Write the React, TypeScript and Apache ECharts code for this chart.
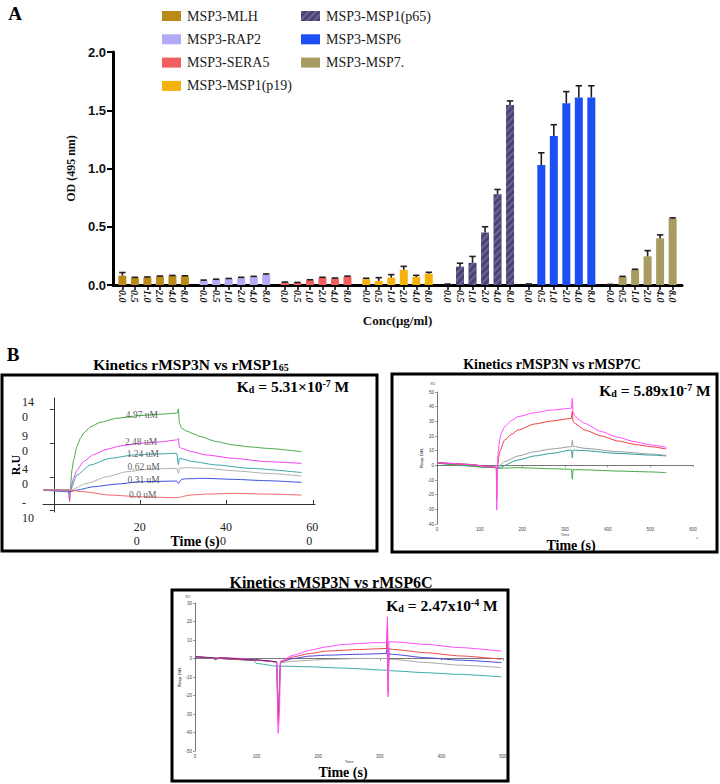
import React, { useEffect, useRef } from "react";
import * as echarts from "echarts";

// ---------- Panel A data ----------
const groupNames = ["MSP3-MLH", "MSP3-RAP2", "MSP3-SERA5", "MSP3-MSP1(p19)", "MSP3-MSP1(p65)", "MSP3-MSP6", "MSP3-MSP7."];
const groupColors = ["#b98a17", "#b3aaf6", "#f25f5f", "#f6b20c", "#4a4272", "#1c4ff3", "#a99c62"];
const concLabels = ["0.0", "0.5", "1.0", "2.0", "4.0", "8.0"];
const mlhOD = [0.08, 0.062, 0.064, 0.073, 0.078, 0.075];
const mlhErr = [0.027, 0.004, 0.005, 0.004, 0.004, 0.004];
const rap2OD = [0.037, 0.045, 0.051, 0.06, 0.068, 0.088];
const rap2Err = [0.005, 0.005, 0.005, 0.006, 0.006, 0.007];
const sera5OD = [0.022, 0.018, 0.04, 0.062, 0.056, 0.072];
const sera5Err = [0.003, 0.004, 0.005, 0.004, 0.004, 0.004];
const p19OD = [0.05, 0.035, 0.063, 0.13, 0.069, 0.097];
const p19Err = [0.008, 0.028, 0.026, 0.03, 0.014, 0.012];
const p65OD = [0.005, 0.157, 0.19, 0.45, 0.78, 1.545];
const p65Err = [0.003, 0.03, 0.055, 0.05, 0.04, 0.035];
const msp6OD = [0.006, 1.03, 1.28, 1.56, 1.61, 1.61];
const msp6Err = [0.003, 0.105, 0.096, 0.1, 0.1, 0.1];
const msp7OD = [0.003, 0.069, 0.129, 0.246, 0.4, 0.57];
const msp7Err = [0.002, 0.005, 0.006, 0.049, 0.03, 0.006];
const yTicksA = [0, 0.5, 1.0, 1.5, 2.0];

// ---------- Panel B1 (rMSP1 65) ----------
const b1Curves = [
  { name: "4.97 uM", color: "#45a845", pts: [[-23.5, 20.5], [34.3, 20.5], [36.6, 3.2], [38.2, 20.5], [42, 50], [45.9, 65], [53.6, 85], [61.3, 97], [69, 105], [84.4, 114], [107.5, 121], [146, 127], [200, 131], [246.2, 133], [284.8, 134.5], [286.3, 135], [288.6, 141], [290.9, 120], [296.3, 112], [307.8, 108], [323.3, 104], [338.7, 100], [377.3, 92.3], [415.8, 87.4], [454.3, 84.5], [492.9, 82.4], [573.8, 77.4]] },
  { name: "2.48 uM", color: "#f040f0", pts: [[-23.5, 20.5], [34.3, 20.5], [36.6, 5], [38.2, 20.5], [45.9, 38], [53.6, 50], [69, 63], [92.1, 73], [122.9, 81], [153.8, 86], [200, 89.9], [246.2, 92], [284.8, 94.8], [288.6, 97.3], [290.9, 84], [296.3, 82.4], [315.6, 78], [354.1, 72.5], [415.8, 67.6], [492.9, 62.6], [573.8, 60.1]] },
  { name: "1.24 uM", color: "#3aa6a6", pts: [[-23.5, 20.5], [34.3, 20.5], [38.2, 20.5], [53.6, 42.8], [84.4, 57.7], [130.6, 67.6], [184.6, 72.5], [238.5, 74], [284.8, 75], [288.6, 58], [290.9, 67.6], [323.3, 62.6], [377.3, 57.7], [454.3, 52.7], [573.8, 46.5]] },
  { name: "0.62 uM", color: "#b0b0b0", pts: [[-23.5, 20.5], [38.2, 20.5], [76.7, 30.4], [122.9, 40.3], [169.2, 47.7], [223.1, 51.7], [284.8, 52.7], [288.6, 45], [290.9, 53], [307.8, 53.7], [354.1, 52.7], [415.8, 49.2], [492.9, 45.3], [573.8, 41.3]] },
  { name: "0.31 uM", color: "#3a50e0", pts: [[-23.5, 20.5], [36.6, 18], [53.6, 20.5], [92.1, 25.5], [146, 29.4], [200, 32.9], [284.8, 33.9], [288.6, 30.4], [296.3, 36.5], [307.8, 37.3], [354.1, 37.8], [415.8, 36.4], [492.9, 34.4], [573.8, 31.9]] },
  { name: "0.0 uM", color: "#f06868", pts: [[-23.5, 20.5], [34.3, 20.5], [69, 18], [130.6, 13.1], [200, 10.6], [284.8, 9.1], [315.6, 13.1], [354.1, 14.6], [415.8, 15.6], [492.9, 14.6], [573.8, 13.1]] },
];
const b1CurveLabels = [
  { text: "4.97 uM", t: 204, v: 132 },
  { text: "2.48 uM", t: 202, v: 91.8 },
  { text: "1.24 uM", t: 206, v: 74 },
  { text: "0.62 uM", t: 208, v: 54.7 },
  { text: "0.31 uM", t: 208, v: 35.4 },
  { text: "0.0 uM", t: 206, v: 13.1 },
];
const b1YTickValues = [140, 90, 40, -10];
const b1YTickLabels = ["14\n0", "9\n0", "4\n0", "-\n10"];
const b1XTickValues = [200, 400, 600];
const b1XTickLabels = ["20\n0", "40\n0", "60\n0"];

// ---------- Panel B2 (rMSP7C) ----------
const b2Curves = [
  { color: "#663366", pts: [[0, 2], [36, 1.3], [72.7, 0.7], [111.7, -0.4], [139, -1.3]] },
  { color: "#2f9c9c", pts: [[0, 1.5], [139, -1.6], [141.4, -2], [189.8, 3.6], [228.9, 6.4], [268, 8.1], [314.8, 10.4], [317.2, 5], [318.8, 10.4], [346.1, 10], [424.2, 8.1], [502.3, 7], [537.5, 6.4]] },
  { color: "#9a9a9a", pts: [[0, 1.8], [139, -1.4], [141.4, -1.4], [158.6, 2.5], [189.8, 6.4], [228.9, 9.3], [268, 11.1], [314.8, 12.7], [317.2, 17], [318.8, 13], [346.1, 11.6], [424.2, 9.3], [502.3, 7.7], [537.5, 6.8]] },
  { color: "#45a845", pts: [[0, 1.5], [139, -1.6], [141.4, -2], [189.8, -1.6], [268, -2.3], [314.8, -2.7], [317.2, -9.5], [318.8, -2.9], [346.1, -3.1], [424.2, -3.9], [502.3, -4.5], [537.5, -5]] },
  { color: "#ee3a3a", pts: [[0, 1.8], [72.7, 0.6], [139, -1.4], [140, -23.6], [141.4, -1.4], [146.9, 9.3], [158.6, 17.3], [174.2, 21], [189.8, 24.1], [228.9, 28.2], [268, 30.2], [314.8, 32], [317.2, 37], [318.8, 30], [322.7, 28.6], [346.1, 24.1], [385.2, 20], [424.2, 16.6], [463.3, 14.3], [502.3, 12.7], [537.5, 11.1]] },
  { color: "#ff48ff", pts: [[0, 1.8], [33.6, 1.3], [72.7, 0.6], [111.7, -0.5], [139, -1.4], [140, -30.5], [141.4, -1.4], [143, 8], [146.9, 17.3], [150.8, 22], [158.6, 26.4], [174.2, 30.5], [189.8, 33.2], [228.9, 35.9], [268, 37.7], [314.8, 38.9], [317.2, 45.7], [318.8, 36], [322.7, 34], [330.5, 31.5], [346.1, 28.6], [385.2, 23], [424.2, 19.1], [463.3, 16.1], [502.3, 13.9], [537.5, 12.3]] },
];

// ---------- Panel B3 (rMSP6C) ----------
const b3Curves = [
  { color: "#35a8a8", pts: [[0, 0.9], [95, -0.9], [100, -2.7], [132.4, -4.1], [138.9, -4.1], [186.5, -4.5], [240.5, -5.2], [310.8, -6.3], [321.6, -6.7], [375.7, -7.7], [429.7, -8.6], [497.3, -9.9]] },
  { color: "#a8a8a8", pts: [[0, 0.9], [100, -0.9], [132.4, -1.8], [135.1, -28], [138.9, -2.3], [159.5, -1.4], [213.5, -0.5], [267.6, 0], [310.8, 0], [315, -0.4], [321.6, -0.5], [375.7, -2.2], [429.7, -3.6], [497.3, -4.9]] },
  { color: "#4646dc", pts: [[0, 0.9], [100, -0.9], [132.4, -1.8], [135.1, -30], [138.9, -1.8], [159.5, 0], [186.5, 1.3], [213.5, 1.8], [267.6, 2.3], [310.8, 2.7], [312.5, 12], [313.5, -12], [315, 2.5], [321.6, 2.2], [375.7, 0.4], [429.7, -0.9], [497.3, -2.2]] },
  { color: "#ee4848", pts: [[0, 0.9], [100, -0.9], [132.4, -1.8], [135.1, -35], [138.9, -1.8], [159.5, 0.9], [186.5, 2.7], [213.5, 4], [267.6, 4.9], [310.8, 5.4], [312.5, 18], [313.5, -18], [315, 5.2], [321.6, 4.9], [375.7, 3.1], [429.7, 1.4], [497.3, -0.4]] },
  { color: "#ff48ff", pts: [[0, 0.9], [29.7, 0.4], [32.4, -0.5], [40.5, 0.5], [78.4, 0], [100, -0.9], [132.4, -1.8], [135.1, -40.5], [137, -30], [138.9, -1.4], [159.5, 1.8], [186.5, 4.5], [213.5, 6.3], [240.5, 7.6], [267.6, 8.1], [294.6, 8.6], [310.8, 8.5], [312.5, 22.5], [313.5, -20.7], [315, 9], [321.6, 9], [375.7, 7.6], [429.7, 5.9], [497.3, 4]] },
  { color: "#663366", pts: [[0, 1], [29.7, 0.5], [32.4, -0.6], [40.5, 0.4], [100, -0.8], [132.4, -1.7]] },
];

const SERIF = "'Liberation Serif', 'Times New Roman', serif";
const SANS = "'Liberation Sans', Arial, sans-serif";

export default function App() {
  const ref = useRef<HTMLDivElement>(null);
  useEffect(() => {
    document.body.style.margin = "0";
    const chart = echarts.init(ref.current!, null, { renderer: "svg" });

    const groupOD = [mlhOD, rap2OD, sera5OD, p19OD, p65OD, msp6OD, msp7OD];
    const groupErr = [mlhErr, rap2Err, sera5Err, p19Err, p65Err, msp6Err, msp7Err];

    // category slots: bars separated by one blank slot, groups by two extra blanks
    const slotKeys: string[] = [];
    const slotLabel: string[] = [];
    const isBar: boolean[] = [];
    const barIndex: number[][] = [];
    let b = 0;
    const addBlank = () => { slotKeys.push("_b" + b++); slotLabel.push(""); isBar.push(false); };
    addBlank();
    groupNames.forEach((_, g) => {
      barIndex.push([]);
      concLabels.forEach((c, ci) => {
        barIndex[g].push(slotKeys.length);
        slotKeys.push(g + "_" + c); slotLabel.push(c); isBar.push(true);
        if (ci < concLabels.length - 1) addBlank();
      });
      if (g < groupNames.length - 1) { addBlank(); addBlank(); } else addBlank();
    });

    const barSeries = groupNames.map((name, g) => {
      const data: any[] = slotKeys.map(() => "-");
      groupOD[g].forEach((v, ci) => { data[barIndex[g][ci]] = v; });
      const s: any = {
        name, type: "bar", xAxisIndex: 0, yAxisIndex: 0, data,
        barWidth: 8, barGap: "-100%",
        itemStyle: { color: groupColors[g] },
      };
      if (g === 4) {
        s.itemStyle.decal = { symbol: "rect", symbolSize: 1, dashArrayX: [1, 0], dashArrayY: [1.5, 2.5], rotation: -Math.PI / 4, color: "rgba(150,140,190,0.45)" };
      }
      return s;
    });

    const errData: any[] = [];
    groupNames.forEach((_, g) => {
      groupOD[g].forEach((v, ci) => errData.push([barIndex[g][ci], v, groupErr[g][ci]]));
    });
    const errSeries = {
      type: "custom", xAxisIndex: 0, yAxisIndex: 0, z: 5, data: errData,
      encode: { x: 0, y: 1 },
      renderItem: (params: any, api: any) => {
        const x = api.value(0), v = api.value(1), e = api.value(2);
        const p0 = api.coord([x, v]);
        const p1 = api.coord([x, v + e]);
        const st = { stroke: "#241c1c", lineWidth: 1.6 };
        return {
          type: "group",
          children: [
            { type: "line", shape: { x1: p0[0], y1: p0[1], x2: p1[0], y2: p1[1] }, style: st },
            { type: "line", shape: { x1: p1[0] - 3.2, y1: p1[1], x2: p1[0] + 3.2, y2: p1[1] }, style: st },
          ],
        };
      },
    };

    const lineSeries = (curves: any[], idx: number) =>
      curves.map((c) => ({
        type: "line", xAxisIndex: idx, yAxisIndex: idx, data: c.pts, showSymbol: false,
        smooth: 0.2, smoothMonotone: "x",
        lineStyle: { color: c.color, width: 1 }, itemStyle: { color: c.color }, z: 3,
      }));

    const b1LabelSeries = {
      type: "scatter", xAxisIndex: 1, yAxisIndex: 1, symbolSize: 1, z: 6,
      itemStyle: { color: "rgba(0,0,0,0)" },
      data: b1CurveLabels.map((l) => ({ name: l.text, value: [l.t, l.v] })),
      label: { show: true, position: "inside", formatter: "{b}", fontFamily: SERIF, fontSize: 9.5, color: "#333" },
    };

    const richLabel = (lines: string) => lines.split("\n").map((p) => `{a|${p}}`).join("\n");

    const tinyAxis = (min: number, max: number, interval: number, grid: number) => ({
      type: "value", gridIndex: grid, min, max, interval,
      axisLine: { show: true, lineStyle: { color: "#555", width: 0.8 } },
      axisTick: { show: true, length: 2, lineStyle: { color: "#555", width: 0.6 } },
      axisLabel: { fontSize: 4.5, color: "#444", margin: 3, fontFamily: SANS },
      splitLine: { show: false },
    });

    const titleRich = {
      sub: { fontSize: 10, fontWeight: "bold", fontFamily: SERIF, verticalAlign: "bottom", padding: [5, 0, 0, 0] },
    };
    const kdRich = {
      sub: { fontSize: 10, fontWeight: "bold", fontFamily: SERIF, verticalAlign: "bottom", padding: [5, 0, 0, 0] },
      dsm: { fontSize: 10, fontWeight: "bold", fontFamily: SERIF, verticalAlign: "bottom", padding: [3, 0, 0, 0] },
      sup: { fontSize: 10, fontWeight: "bold", fontFamily: SERIF, verticalAlign: "top", padding: [0, 0, 5, 0] },
    };
    const txt = (text: string, x: number, y: number, size: number, extra: any = {}, rotation = 0) => ({
      type: "text", x, y, z: 20, rotation,
      style: { text, fontFamily: SERIF, fontWeight: "bold", fontSize: size, fill: "#000", align: "center", verticalAlign: "middle", ...extra },
    });
    const box = (x: number, y: number, w: number, h: number) => ({
      type: "rect", shape: { x, y, width: w, height: h }, z: 20,
      style: { fill: "none", stroke: "#000", lineWidth: 3 },
    });

    const legendCommon = {
      orient: "vertical", itemWidth: 19, itemHeight: 10, itemGap: 9.3, icon: "rect",
      textStyle: { fontFamily: SERIF, fontSize: 14, color: "#1a1a1a", lineHeight: 14, padding: [0, 0, 0, 1] },
    };

    chart.setOption({
      animation: false,
      backgroundColor: "#fff",
      legend: [
        { ...legendCommon, left: 157, top: 4, data: groupNames.slice(0, 4) },
        { ...legendCommon, left: 296, top: 4, data: groupNames.slice(4) },
      ],
      grid: [
        { left: 113, top: 52, width: 569, height: 233 },
        { left: 43, top: 398, width: 272, height: 114 },
        { left: 437, top: 392, width: 256, height: 132 },
        { left: 195, top: 603, width: 308, height: 148 },
      ],
      xAxis: [
        {
          type: "category", gridIndex: 0, data: slotKeys,
          axisLine: { lineStyle: { color: "#000", width: 3 } },
          axisTick: { show: true, alignWithLabel: true, interval: (i: number) => isBar[i], length: 5, lineStyle: { color: "#000", width: 1.5 } },
          axisLabel: {
            interval: (i: number) => isBar[i], rotate: -90, margin: 5,
            formatter: (_v: string, i: number) => slotLabel[i],
            fontFamily: SERIF, fontWeight: "bold", fontStyle: "italic", fontSize: 10, color: "#111",
          },
          name: "Conc(μg/ml)", nameLocation: "middle", nameGap: 29,
          nameTextStyle: { fontFamily: SERIF, fontWeight: "bold", fontSize: 13, color: "#111" },
        },
        {
          type: "value", gridIndex: 1, min: -25, max: 605,
          axisLine: { show: true, lineStyle: { color: "#333", width: 1 } },
          axisTick: { show: true, inside: true, length: 4, customValues: b1XTickValues, lineStyle: { color: "#333" } },
          axisLabel: {
            customValues: b1XTickValues, margin: 8,
            formatter: (v: number) => richLabel(b1XTickLabels[b1XTickValues.indexOf(v)] || ""),
            rich: { a: { width: 13, align: "left", fontSize: 12, lineHeight: 14, fontFamily: SERIF, color: "#222" } },
          },
          splitLine: { show: false },
        },
        { ...tinyAxis(0, 600, 100, 2), name: "Time", nameLocation: "middle", nameGap: 8, nameTextStyle: { fontSize: 4, color: "#444" } },
        { ...tinyAxis(0, 500, 100, 3), name: "Time", nameLocation: "middle", nameGap: 8, nameTextStyle: { fontSize: 4, color: "#444" } },
      ],
      yAxis: [
        {
          type: "value", gridIndex: 0, min: 0, max: 2, interval: 0.5,
          axisLine: { show: true, lineStyle: { color: "#000", width: 3 } },
          axisTick: { show: true, length: 6, lineStyle: { color: "#000", width: 2 } },
          axisLabel: { formatter: (v: number) => (yTicksA.includes(v) ? v.toFixed(1) : ""), fontFamily: SANS, fontWeight: "bold", fontSize: 13, color: "#111", margin: 7 },
          splitLine: { show: false },
          name: "OD (495 nm)", nameLocation: "middle", nameGap: 36,
          nameTextStyle: { fontFamily: SERIF, fontWeight: "bold", fontSize: 12, color: "#111" },
        },
        {
          type: "value", gridIndex: 1, min: -12, max: 157,
          axisLine: { show: true, lineStyle: { color: "#333", width: 1 } },
          axisTick: { show: true, length: 4, customValues: b1YTickValues, lineStyle: { color: "#333" } },
          axisLabel: {
            customValues: b1YTickValues, margin: 21, align: "left", lineHeight: 15,
            formatter: (v: number) => b1YTickLabels[b1YTickValues.indexOf(v)] || "",
            fontSize: 12, fontFamily: SERIF, color: "#222",
          },
          splitLine: { show: false },
        },
        { ...tinyAxis(-40, 50, 10, 2), name: "Resp. Diff.", nameLocation: "middle", nameGap: 11, nameTextStyle: { fontSize: 4, color: "#444", fontWeight: "bold" } },
        { ...tinyAxis(-50, 30, 10, 3), name: "Resp. Diff.", nameLocation: "middle", nameGap: 11, nameTextStyle: { fontSize: 4, color: "#444", fontWeight: "bold" } },
      ],
      series: [
        ...barSeries,
        errSeries,
        ...lineSeries(b1Curves, 1),
        b1LabelSeries,
        ...lineSeries(b2Curves, 2),
        ...lineSeries(b3Curves, 3),
      ],
      graphic: [
        txt("A", 15, 13, 19),
        txt("B", 13, 354, 19),
        box(2, 375, 375, 176),
        box(392, 374, 325, 178),
        box(172, 590, 336, 191),
        txt("Kinetics rMSP3N vs rMSP1{sub|65}", 191, 364, 15.5, { rich: titleRich }),
        txt("Kinetics rMSP3N vs rMSP7C", 552, 364, 14),
        txt("Kinetics rMSP3N vs rMSP6C", 331, 582, 16),
        txt("K{sub|d} = 5.31×10{sup|-7} M", 293, 386, 15.5, { rich: kdRich }),
        txt("K{dsm|d} = 5.89x10{sup|-7} M", 655, 390, 15.5, { rich: kdRich }),
        txt("K{dsm|d} = 2.47x10{sup|-4} M", 442, 605, 15.5, { rich: kdRich }),
        txt("R.U", 16, 465, 12, {}, Math.PI / 2),
        txt("Time (s)", 195, 541, 14),
        txt("Time (s)", 571, 545, 14),
        txt("Time (s)", 343, 772, 14),
        txt("RU", 433, 384, 3.5, { fontWeight: "normal", fill: "#444" }),
        txt("RU", 188, 597, 3.5, { fontWeight: "normal", fill: "#444" }),
        txt("s", 697, 537, 4, { fontWeight: "normal", fill: "#444" }),
        txt("s", 507, 760, 4, { fontWeight: "normal", fill: "#444" }),
      ],
    });
    return () => chart.dispose();
  }, []);
  return <div ref={ref} style={{ position: "fixed", left: 0, top: 0, width: 720, height: 784 }} />;
}
